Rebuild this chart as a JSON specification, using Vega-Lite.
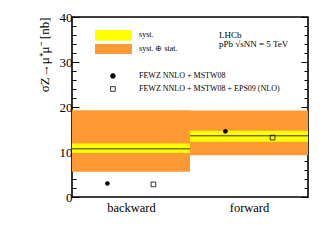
{
  "$schema": "https://vega.github.io/schema/vega-lite/v6.json",
  "width": 236,
  "height": 180,
  "autosize": {"type": "none"},
  "padding": {"left": 72, "top": 17, "right": 24, "bottom": 45},
  "background": "white",
  "config": {
    "font": "Liberation Serif",
    "view": {"stroke": "black", "strokeWidth": 1.6},
    "axis": {"grid": false, "domain": false, "labelFont": "Liberation Serif", "titleFont": "Liberation Serif", "labelColor": "black", "titleColor": "black", "tickColor": "black"}
  },
  "datasets": {
    "bands": [
      {"region": "backward", "x0": 0, "x1": 1, "totLo": 5.6, "totHi": 19.3, "systLo": 9.8, "systHi": 11.9, "central": 10.7},
      {"region": "forward", "x0": 1, "x1": 2, "totLo": 9.3, "totHi": 19.2, "systLo": 12.3, "systHi": 14.7, "central": 13.6}
    ],
    "theory": [
      {"region": "backward", "model": "FEWZ NNLO + MSTW08", "x": 0.3, "value": 3.0},
      {"region": "backward", "model": "FEWZ NNLO + MSTW08 + EPS09 (NLO)", "x": 0.69, "value": 2.8},
      {"region": "forward", "model": "FEWZ NNLO + MSTW08", "x": 1.3, "value": 14.6},
      {"region": "forward", "model": "FEWZ NNLO + MSTW08 + EPS09 (NLO)", "x": 1.7, "value": 13.2}
    ],
    "legendBoxes": [
      {"label": "syst.", "x0": 0.195, "x1": 0.508, "y0": 34.7, "y1": 37.1, "color": "syst"},
      {"label": "syst. ⊕ stat.", "x0": 0.195, "x1": 0.508, "y0": 31.8, "y1": 34.0, "color": "tot"}
    ],
    "legendTexts": [
      {"label": "syst.", "x": 0.568, "y": 35.9},
      {"label": "syst. ⊕ stat.", "x": 0.568, "y": 32.9},
      {"label": "FEWZ NNLO + MSTW08", "x": 0.568, "y": 26.9},
      {"label": "FEWZ NNLO + MSTW08 + EPS09 (NLO)", "x": 0.568, "y": 24.0}
    ],
    "legendPoints": [
      {"model": "FEWZ NNLO + MSTW08", "x": 0.347, "y": 26.9},
      {"model": "FEWZ NNLO + MSTW08 + EPS09 (NLO)", "x": 0.347, "y": 24.0}
    ],
    "lhcb": [
      {"label": "LHCb", "x": 1.246, "y": 35.3},
      {"label": "pPb √sNN = 5 TeV", "x": 1.246, "y": 33.4}
    ]
  },
  "layer": [
    {
      "data": {"name": "bands"},
      "mark": {"type": "rect", "color": "#FF9933"},
      "encoding": {
        "x": {"field": "x0", "type": "quantitative", "scale": {"domain": [0, 2], "nice": false}, "axis": {"orient": "bottom", "values": [0.5, 1.5], "labelExpr": "datum.value < 1 ? 'backward' : 'forward'", "ticks": false, "labelFontSize": 12.5, "labelPadding": 4, "title": null}},
        "x2": {"field": "x1"},
        "y": {"field": "totLo", "type": "quantitative", "scale": {"domain": [0, 40], "nice": false}, "axis": {"orient": "left", "values": [0,2,4,6,8,10,12,14,16,18,20,22,24,26,28,30,32,34,36,38,40], "labelExpr": "datum.value % 10 === 0 ? datum.label : ''", "tickSize": {"condition": {"test": "datum.value % 10 === 0", "value": -7}, "value": -4}, "tickWidth": 1, "labelFontSize": 13, "labelPadding": 7, "title": "σZ→μ⁺μ⁻ [nb]", "titleFontSize": 13, "titleFontWeight": "normal", "titleAnchor": "end", "titlePadding": 8}},
        "y2": {"field": "totHi"}
      }
    },
    {
      "data": {"name": "bands"},
      "mark": {"type": "rect", "color": "#FFFF00"},
      "encoding": {
        "x": {"field": "x0", "type": "quantitative"},
        "x2": {"field": "x1"},
        "y": {"field": "systLo", "type": "quantitative", "axis": {"orient": "right", "values": [0,2,4,6,8,10,12,14,16,18,20,22,24,26,28,30,32,34,36,38,40], "labels": false, "tickSize": {"condition": {"test": "datum.value % 10 === 0", "value": -7}, "value": -4}, "tickWidth": 1, "title": null}},
        "y2": {"field": "systHi"}
      }
    },
    {
      "data": {"name": "bands"},
      "mark": {"type": "rule", "color": "#333300", "strokeWidth": 1},
      "encoding": {
        "x": {"field": "x0", "type": "quantitative"},
        "x2": {"field": "x1"},
        "y": {"field": "central", "type": "quantitative", "axis": null}
      }
    },
    {
      "data": {"name": "theory"},
      "mark": {"type": "point", "shape": "circle", "filled": true, "color": "black", "size": 22, "opacity": 1},
      "transform": [{"filter": "datum.model === 'FEWZ NNLO + MSTW08'"}],
      "encoding": {
        "x": {"field": "x", "type": "quantitative"},
        "y": {"field": "value", "type": "quantitative", "axis": null}
      }
    },
    {
      "data": {"name": "theory"},
      "mark": {"type": "point", "shape": "square", "filled": false, "color": "black", "size": 22, "strokeWidth": 0.8, "opacity": 1},
      "transform": [{"filter": "datum.model !== 'FEWZ NNLO + MSTW08'"}],
      "encoding": {
        "x": {"field": "x", "type": "quantitative"},
        "y": {"field": "value", "type": "quantitative", "axis": null}
      }
    },
    {
      "data": {"name": "legendBoxes"},
      "mark": {"type": "rect"},
      "encoding": {
        "x": {"field": "x0", "type": "quantitative"},
        "x2": {"field": "x1"},
        "y": {"field": "y0", "type": "quantitative", "axis": null},
        "y2": {"field": "y1"},
        "color": {"field": "color", "type": "nominal", "scale": {"domain": ["syst", "tot"], "range": ["#FFFF00", "#FF9933"]}, "legend": null}
      }
    },
    {
      "data": {"name": "legendPoints"},
      "mark": {"type": "point", "filled": true, "color": "black", "size": 22, "opacity": 1},
      "encoding": {
        "x": {"field": "x", "type": "quantitative"},
        "y": {"field": "y", "type": "quantitative", "axis": null},
        "shape": {"field": "model", "type": "nominal", "scale": {"domain": ["FEWZ NNLO + MSTW08", "FEWZ NNLO + MSTW08 + EPS09 (NLO)"], "range": ["circle", "square"]}, "legend": null},
        "fill": {"field": "model", "type": "nominal", "scale": {"domain": ["FEWZ NNLO + MSTW08", "FEWZ NNLO + MSTW08 + EPS09 (NLO)"], "range": ["black", "transparent"]}, "legend": null},
        "strokeWidth": {"value": 0.8},
        "stroke": {"value": "black"}
      }
    },
    {
      "data": {"name": "legendTexts"},
      "mark": {"type": "text", "align": "left", "baseline": "middle", "fontSize": 8, "font": "Liberation Serif", "color": "black"},
      "encoding": {
        "x": {"field": "x", "type": "quantitative"},
        "y": {"field": "y", "type": "quantitative", "axis": null},
        "text": {"field": "label"}
      }
    },
    {
      "data": {"name": "lhcb"},
      "mark": {"type": "text", "align": "left", "baseline": "alphabetic", "fontSize": 9, "font": "Liberation Serif", "color": "black"},
      "encoding": {
        "x": {"field": "x", "type": "quantitative"},
        "y": {"field": "y", "type": "quantitative", "axis": null},
        "text": {"field": "label"}
      }
    }
  ],
  "resolve": {"axis": {"y": "independent"}}
}
